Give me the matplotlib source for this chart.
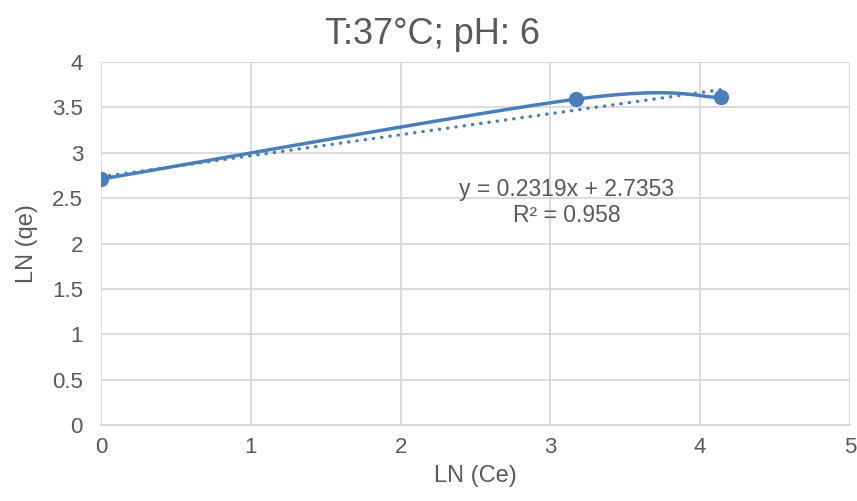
import numpy as np
import matplotlib
matplotlib.use("Agg")
import matplotlib.pyplot as plt

# measured points: ln(Ce) vs ln(qe)
ln_ce = [0.0, 3.17, 4.14]
ln_qe = [2.71, 3.59, 3.61]

slope = 0.2319
intercept = 2.7353
r2 = 0.958

blue = "#4A7EBB"
text_col = "#595959"
grid_col = "#D9D9D9"

plt.rcParams['font.family'] = ['Liberation Sans', 'DejaVu Sans']


def smooth_curve(xs, ys, n=60):
    # Catmull-Rom style bezier pieces, like a spreadsheet "smoothed line"
    pts = np.column_stack([xs, ys])
    padded = np.vstack([pts[0], pts, pts[-1]])
    out = []
    for i in range(1, len(padded) - 2):
        p0, p1, p2, p3 = padded[i - 1], padded[i], padded[i + 1], padded[i + 2]
        c1 = p1 + (p2 - p0) / 6.0
        c2 = p2 - (p3 - p1) / 6.0
        t = np.linspace(0, 1, n)[:, None]
        seg = ((1 - t) ** 3) * p1 + 3 * ((1 - t) ** 2) * t * c1 \
            + 3 * (1 - t) * t ** 2 * c2 + t ** 3 * p2
        out.append(seg)
    curve = np.vstack(out)
    return curve[:, 0], curve[:, 1]


fig = plt.figure(figsize=(8.57, 5.01), dpi=100)
ax = fig.add_axes([0.1179, 0.1517, 0.8739, 0.7245])

cx, cy = smooth_curve(ln_ce, ln_qe)
ax.plot(cx, cy, color=blue, linewidth=2.5, solid_capstyle='round', zorder=3)
ax.plot(ln_ce, ln_qe, 'o', color=blue, markersize=10, zorder=4)

# linear trendline
tx = np.array([min(ln_ce), max(ln_ce)])
ax.plot(tx, slope * tx + intercept, color=blue, linewidth=2.4,
        linestyle=(0, (0.1, 2.4)), dash_capstyle='round', zorder=2)

ax.text(3.11, 2.45, f"y = {slope}x + {intercept}\nR² = {r2}",
        ha='center', va='center', fontsize=16.5, color=text_col,
        linespacing=1.15)

ax.set_xlim(0, 5)
ax.set_ylim(0, 4)
ax.set_xticks(np.arange(0, 6, 1))
ax.set_yticks(np.arange(0, 4.5, 0.5))
ax.set_yticklabels(["0", "0.5", "1", "1.5", "2", "2.5", "3", "3.5", "4"])
ax.grid(True, color=grid_col, linewidth=1.3)
ax.set_axisbelow(True)
for s in ['top', 'right', 'left']:
    ax.spines[s].set_visible(False)
ax.spines['bottom'].set_color(grid_col)
ax.spines['bottom'].set_linewidth(1.3)
ax.tick_params(length=0, labelsize=16, colors=text_col)
ax.tick_params(axis='x', pad=9)
ax.tick_params(axis='y', pad=13)

# title sits over the whole chart, not just the plot area
ax.set_title("T:37°C; pH: 6", fontsize=26, color=text_col, pad=13, x=0.443)
ax.set_xlabel("LN (Ce)", fontsize=17, color=text_col, labelpad=5)
ax.set_ylabel("LN (qe)", fontsize=17, color=text_col, labelpad=10)

fig.savefig("out.png", dpi=100)
